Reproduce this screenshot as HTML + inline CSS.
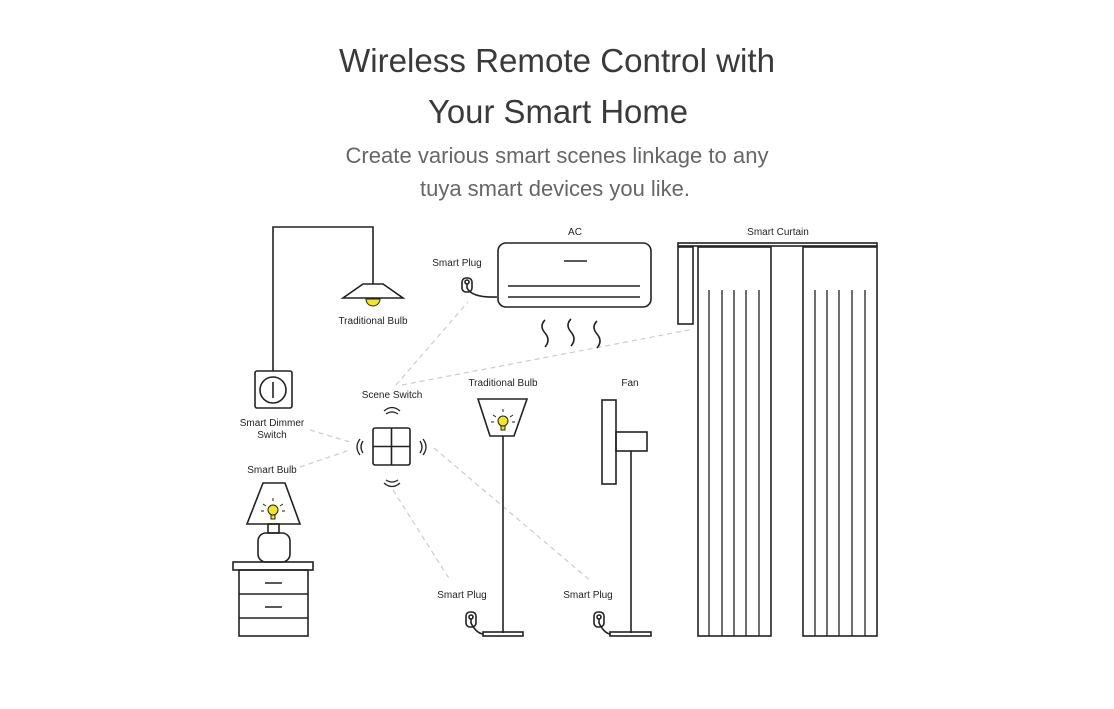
<!DOCTYPE html>
<html><head><meta charset="utf-8"><style>
html,body{margin:0;padding:0;background:#fff;}
svg{display:block;}
</style></head><body>
<svg width="1114" height="709" viewBox="0 0 1114 709" xmlns="http://www.w3.org/2000/svg">
<g font-family="Liberation Sans, sans-serif" text-anchor="middle">
<text x="557" y="72" font-size="33" fill="#3a3a3a" textLength="436" lengthAdjust="spacingAndGlyphs">Wireless Remote Control with</text>
<text x="558" y="123" font-size="33" fill="#3a3a3a" textLength="260" lengthAdjust="spacingAndGlyphs">Your Smart Home</text>
<text x="557" y="163" font-size="22" fill="#666" textLength="423" lengthAdjust="spacingAndGlyphs">Create various smart scenes linkage to any</text>
<text x="555" y="196" font-size="22" fill="#666" textLength="270" lengthAdjust="spacingAndGlyphs">tuya smart devices you like.</text>
</g>
<g font-family="Liberation Sans, sans-serif" font-size="10" fill="#222" text-anchor="middle">
<text x="373" y="324">Traditional Bulb</text>
<text x="575" y="235">AC</text>
<text x="457" y="266">Smart Plug</text>
<text x="778" y="235">Smart Curtain</text>
<text x="272" y="426">Smart Dimmer</text>
<text x="272" y="438">Switch</text>
<text x="272" y="473">Smart Bulb</text>
<text x="392" y="398">Scene Switch</text>
<text x="503" y="386">Traditional Bulb</text>
<text x="630" y="386">Fan</text>
<text x="462" y="598">Smart Plug</text>
<text x="588" y="598">Smart Plug</text>
</g>
<g stroke="#ccc" stroke-width="1.2" stroke-dasharray="5,4" fill="none">
<line x1="396" y1="385" x2="468" y2="302"/>
<line x1="402" y1="385" x2="694" y2="329"/>
<line x1="310" y1="430" x2="350" y2="442"/>
<line x1="300" y1="467" x2="350" y2="450"/>
<line x1="393" y1="490" x2="450" y2="580"/>
<line x1="434" y1="448" x2="592" y2="582"/>
</g>
<g stroke="#222" stroke-width="1.6" fill="none">
<polyline points="273,371 273,227 373,227 373,284"/>
<polygon points="343,298 403,298 383,284 363,284" fill="#fff"/>
<rect x="255" y="371" width="37" height="37" rx="2"/>
<circle cx="273" cy="390" r="13"/>
<line x1="273" y1="382" x2="273" y2="398"/>
<rect x="498" y="243" width="153" height="64" rx="8"/>
<line x1="564" y1="261" x2="587" y2="261"/>
<line x1="508" y1="286" x2="640" y2="286"/>
<line x1="508" y1="297" x2="640" y2="297"/>
<rect x="462" y="278" width="10" height="14" rx="4"/>
<circle cx="467" cy="282" r="2"/>
<path d="M467,284 L467,288 Q472,298 497,297"/>
<path d="M545,320 q-6,6 0,13 q6,7 0,14"/>
<path d="M571,319 q-6,6 0,13 q6,7 0,14"/>
<path d="M597,321 q-6,6 0,13 q6,7 0,14"/>
<rect x="373" y="428" width="37" height="37" rx="2"/>
<line x1="391.5" y1="428" x2="391.5" y2="465"/>
<line x1="373" y1="446.5" x2="410" y2="446.5"/>
<path d="M384,411 q8,-7 16,0 M386,414 q6,-4 12,0" stroke-width="1.3"/>
<path d="M384,483 q8,7 16,0 M386,480 q6,4 12,0" stroke-width="1.3"/>
<path d="M360,439 q-6,8 0,16 M363,441 q-4,6 0,12" stroke-width="1.3"/>
<path d="M423,439 q6,8 0,16 M420,441 q4,6 0,12" stroke-width="1.3"/>
<polygon points="478,399 527,399 514,436 490,436"/>
<line x1="503" y1="436" x2="503" y2="633"/>
<rect x="483" y="632" width="40" height="4"/>
<rect x="466" y="612" width="10" height="15" rx="4"/>
<circle cx="471" cy="617" r="2"/>
<path d="M471,619 L471,623 Q476,633 483,634"/>
<rect x="602" y="400" width="14" height="84"/>
<rect x="616" y="432" width="31" height="19"/>
<line x1="631" y1="451" x2="631" y2="633"/>
<rect x="610" y="632" width="41" height="4"/>
<rect x="594" y="612" width="10" height="15" rx="4"/>
<circle cx="599" cy="617" r="2"/>
<path d="M599,619 L599,623 Q604,633 610,634"/>
<rect x="678" y="243" width="199" height="3"/>
<rect x="678" y="247" width="15" height="77"/>
<rect x="698" y="247" width="73" height="389"/>
<rect x="803" y="247" width="74" height="389"/>
<g stroke-width="1.3">
<line x1="709" y1="290" x2="709" y2="636"/><line x1="722" y1="290" x2="722" y2="636"/><line x1="734" y1="290" x2="734" y2="636"/><line x1="746" y1="290" x2="746" y2="636"/><line x1="759" y1="290" x2="759" y2="636"/>
<line x1="815" y1="290" x2="815" y2="636"/><line x1="827" y1="290" x2="827" y2="636"/><line x1="839" y1="290" x2="839" y2="636"/><line x1="852" y1="290" x2="852" y2="636"/><line x1="865" y1="290" x2="865" y2="636"/>
</g>
<polygon points="263,483 285,483 300,524 247,524"/>
<rect x="268" y="524" width="11" height="9"/>
<rect x="258" y="533" width="32" height="29" rx="8"/>
<rect x="233" y="562" width="80" height="8"/>
<rect x="239" y="570" width="69" height="66"/>
<line x1="239" y1="594" x2="308" y2="594"/>
<line x1="239" y1="618" x2="308" y2="618"/>
<line x1="265" y1="583" x2="282" y2="583"/>
<line x1="265" y1="607" x2="282" y2="607"/>
</g>
<g fill="#f3e620" stroke="#222" stroke-width="1">
<path d="M366,299 a7,7 0 0 0 14,0 z"/>
<circle cx="503" cy="421" r="5"/>
<rect x="501" y="426" width="4" height="4"/>
<circle cx="273" cy="510" r="5"/>
<rect x="271" y="515" width="4" height="4"/>
</g>
<g stroke="#222" stroke-width="1">
<line x1="503" y1="409" x2="503" y2="412"/><line x1="493" y1="415" x2="496" y2="417"/><line x1="513" y1="415" x2="510" y2="417"/><line x1="491" y1="422" x2="494" y2="422"/><line x1="515" y1="422" x2="512" y2="422"/>
<line x1="273" y1="498" x2="273" y2="501"/><line x1="263" y1="504" x2="266" y2="506"/><line x1="283" y1="504" x2="280" y2="506"/><line x1="261" y1="511" x2="264" y2="511"/><line x1="285" y1="511" x2="282" y2="511"/>
</g>
</svg>
</body></html>
